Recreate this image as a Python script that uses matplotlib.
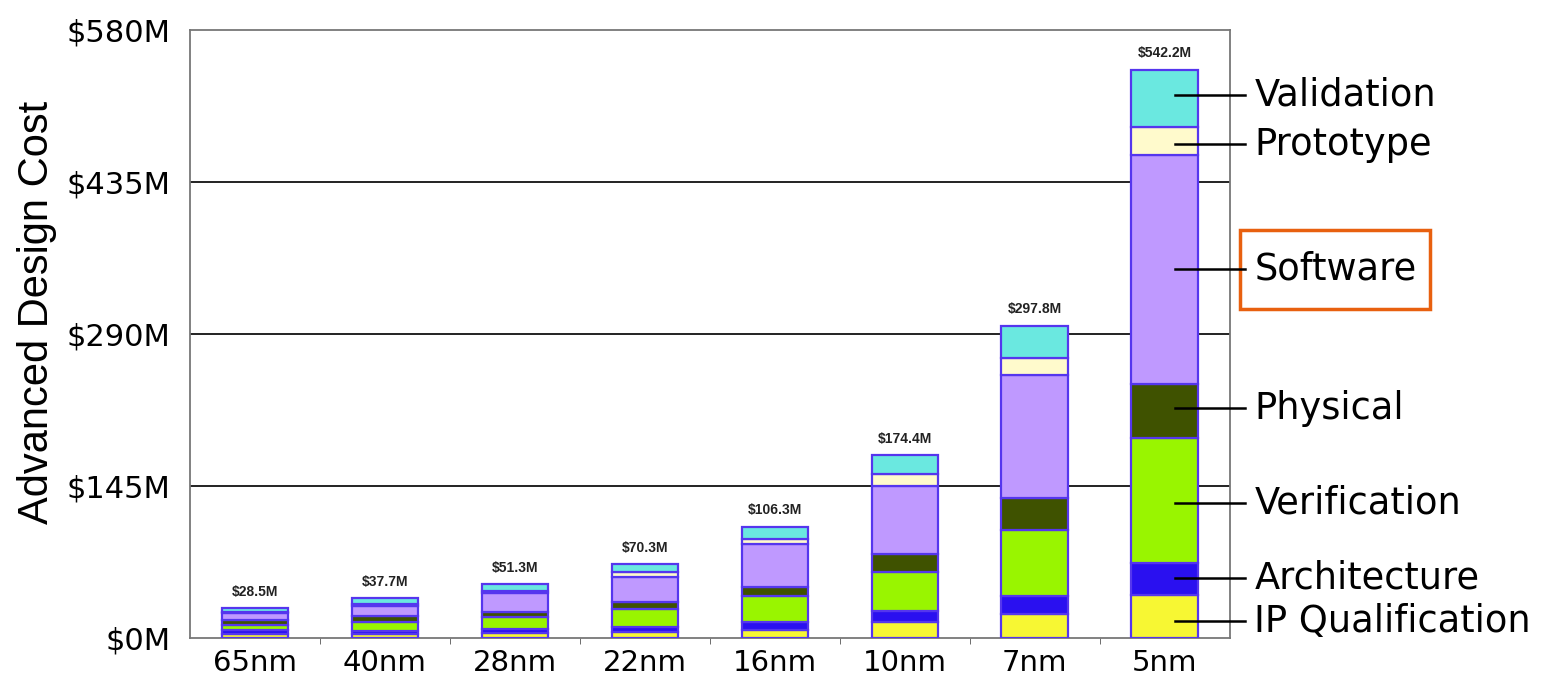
import matplotlib.pyplot as plt
from matplotlib.patches import Rectangle

# process nodes and cost per design phase ($M), bottom to top
nodes = ["65nm", "40nm", "28nm", "22nm", "16nm", "10nm", "7nm", "5nm"]
totals = [28.5, 37.7, 51.3, 70.3, 106.3, 174.4, 297.8, 542.2]

phases = ["IP Qualification", "Architecture", "Verification", "Physical",
          "Software", "Prototype", "Validation"]
ip_qual = [3.5, 3.8, 4.8, 5.4, 8.0, 14.9, 23.1, 41.2]
architecture = [4.0, 3.2, 3.8, 5.1, 7.3, 11.1, 17.4, 30.5]
verification = [4.5, 8.6, 11.1, 17.3, 25.2, 37.2, 63.0, 119.0]
physical = [5.0, 5.1, 5.4, 6.4, 8.3, 16.8, 30.4, 51.3]
software = [6.5, 10.1, 17.4, 24.3, 40.5, 65.1, 117.2, 218.7]
prototype = [1.5, 1.6, 2.5, 4.5, 5.4, 11.8, 16.5, 26.9]
validation = [3.5, 5.4, 6.3, 7.3, 11.5, 17.5, 30.1, 54.5]

colors = ["#f7f733", "#2a10f0", "#99f500", "#3f5200",
          "#bf99ff", "#fffacc", "#6ae8e0"]

yticks = [0, 145, 290, 435, 580]

series = [ip_qual, architecture, verification, physical, software, prototype, validation]

fig = plt.figure(figsize=(15.47, 6.85), dpi=100)
ax = fig.add_axes([0.1228, 0.0686, 0.672, 0.8874])

x = range(len(nodes))
bottom = [0.0] * len(nodes)
for vals, col in zip(series, colors):
    ax.bar(x, vals, bottom=bottom, width=0.51, color=col,
           edgecolor="#5536ee", linewidth=1.6, zorder=3)
    bottom = [b + v for b, v in zip(bottom, vals)]

for i, t in enumerate(totals):
    ax.text(i, t + 9, "$%.1fM" % t, ha="center", va="bottom",
            fontsize=10, fontweight="bold", family="Liberation Sans", color="#222222")

ax.set_xlim(-0.5, 7.5)
ax.set_ylim(0, 580)
ax.set_yticks(yticks)
ax.set_yticklabels(["$%dM" % v for v in yticks], fontsize=22)
ax.set_xticks(list(x))
ax.set_xticklabels(nodes, fontsize=21)
ax.tick_params(axis="y", length=0, pad=14)
ax.tick_params(axis="x", length=0, pad=8)
ax.set_xticks([i - 0.5 for i in range(1, len(nodes))], minor=True)
ax.tick_params(axis="x", which="minor", length=4, color="#555555")

for v in yticks[1:-1]:
    ax.axhline(v, color="#222222", linewidth=1.4, zorder=1)

for s in ax.spines.values():
    s.set_color("#777777")
    s.set_linewidth(1.3)

ax.set_ylabel("Advanced Design Cost", fontsize=30, family="Liberation Sans")
ax.yaxis.set_label_coords(-0.128, 0.536)

# phase callouts for the 5nm bar
label_y = [16, 57, 129, 219, 352, 471, 518]
for name, ly in zip(phases, label_y):
    ax.plot([7.08, 7.62], [ly, ly], color="black", linewidth=1.8,
            clip_on=False, zorder=4)
    ax.text(7.69, ly, name, fontsize=26.5, va="center", ha="left")

box = Rectangle((7.58, 314), 1.46, 75, transform=ax.transData, fill=False,
                edgecolor="#e8600f", linewidth=2.5, clip_on=False)
ax.add_patch(box)

fig.savefig("out.png", dpi=100)
